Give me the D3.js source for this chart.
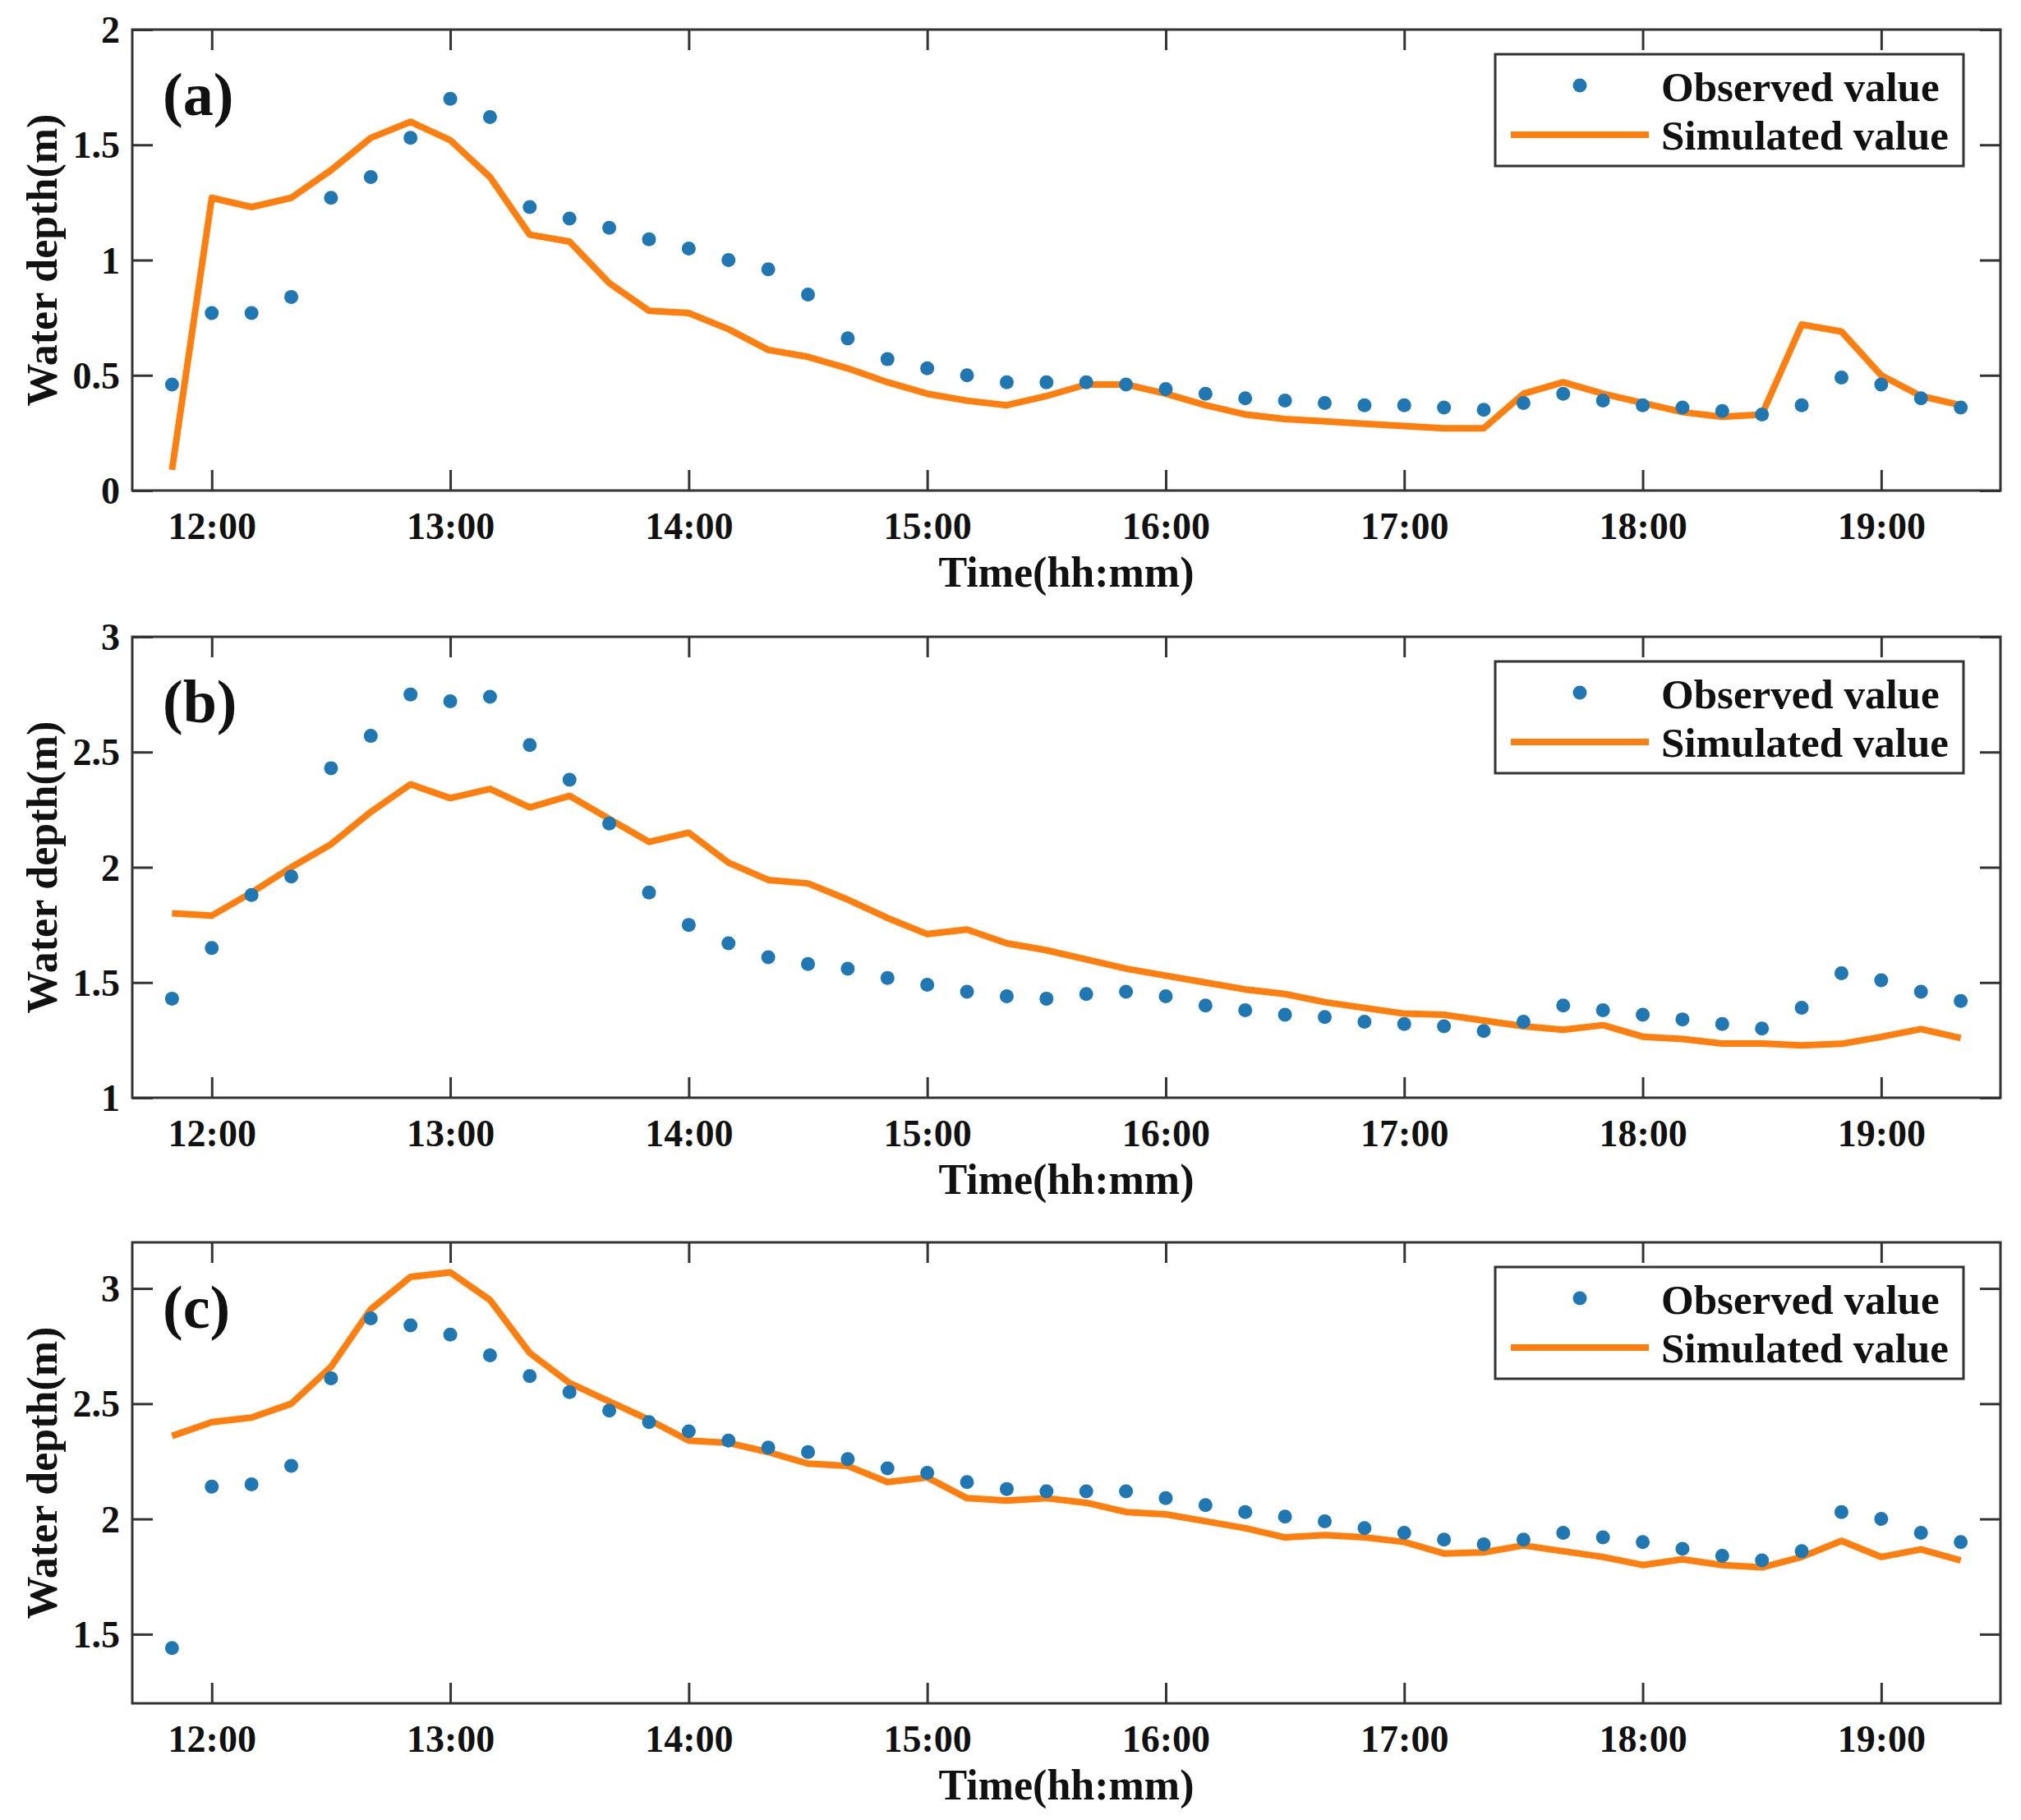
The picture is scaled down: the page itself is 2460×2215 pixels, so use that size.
<!DOCTYPE html>
<html>
<head>
<meta charset="utf-8">
<script src="https://cdn.jsdelivr.net/npm/d3@7"></script>
<style>
  html, body { margin: 0; padding: 0; background: #fff; }
  svg { display: block; }
  text { font-family: "Liberation Serif", "Times New Roman", serif; font-weight: bold; fill: #111; }
</style>
</head>
<body>
<svg id="chart" width="2460" height="2215"></svg>
<script>
// ---- data ----
const times = ["11:50","12:00","12:10","12:20","12:30","12:40","12:50","13:00","13:10","13:20","13:30","13:40","13:50","14:00","14:10","14:20","14:30","14:40","14:50","15:00","15:10","15:20","15:30","15:40","15:50","16:00","16:10","16:20","16:30","16:40","16:50","17:00","17:10","17:20","17:30","17:40","17:50","18:00","18:10","18:20","18:30","18:40","18:50","19:00","19:10","19:20"];
const xDomain = ["11:40", "19:30"];
const xTicks = ["12:00","13:00","14:00","15:00","16:00","17:00","18:00","19:00"];

const obsA = [0.46,0.77,0.77,0.84,1.27,1.36,1.53,1.70,1.62,1.23,1.18,1.14,1.09,1.05,1.00,0.96,0.85,0.66,0.57,0.53,0.50,0.47,0.47,0.47,0.46,0.44,0.42,0.40,0.39,0.38,0.37,0.37,0.36,0.35,0.38,0.42,0.39,0.37,0.36,0.345,0.33,0.37,0.49,0.46,0.40,0.36];
const simA = [0.09,1.27,1.23,1.27,1.39,1.53,1.60,1.52,1.36,1.11,1.08,0.90,0.78,0.77,0.70,0.61,0.58,0.53,0.47,0.42,0.39,0.37,0.41,0.46,0.46,0.42,0.37,0.33,0.31,0.30,0.29,0.28,0.27,0.27,0.42,0.47,0.42,0.38,0.34,0.32,0.33,0.72,0.69,0.50,0.41,0.37];
const obsB = [1.43,1.65,1.88,1.96,2.43,2.57,2.75,2.72,2.74,2.53,2.38,2.19,1.89,1.75,1.67,1.61,1.58,1.56,1.52,1.49,1.46,1.44,1.43,1.45,1.46,1.44,1.40,1.38,1.36,1.35,1.33,1.32,1.31,1.29,1.33,1.40,1.38,1.36,1.34,1.32,1.30,1.39,1.54,1.51,1.46,1.42];
const simB = [1.80,1.79,1.89,2.00,2.10,2.24,2.36,2.30,2.34,2.26,2.31,2.21,2.11,2.15,2.02,1.945,1.93,1.86,1.78,1.71,1.73,1.67,1.64,1.60,1.56,1.53,1.50,1.47,1.45,1.415,1.39,1.365,1.36,1.335,1.31,1.295,1.315,1.265,1.255,1.235,1.235,1.227,1.234,1.264,1.298,1.259];
const obsC = [1.44,2.14,2.15,2.23,2.61,2.87,2.84,2.80,2.71,2.62,2.55,2.47,2.42,2.38,2.34,2.31,2.29,2.26,2.22,2.20,2.16,2.13,2.12,2.12,2.12,2.09,2.06,2.03,2.01,1.99,1.96,1.94,1.91,1.89,1.91,1.94,1.92,1.90,1.87,1.84,1.82,1.86,2.03,2.00,1.94,1.90];
const simC = [2.36,2.42,2.44,2.50,2.66,2.91,3.05,3.07,2.95,2.72,2.59,2.51,2.43,2.34,2.33,2.29,2.24,2.23,2.16,2.18,2.09,2.08,2.09,2.07,2.03,2.02,1.99,1.96,1.92,1.93,1.92,1.90,1.85,1.855,1.885,1.86,1.835,1.80,1.825,1.80,1.79,1.835,1.905,1.835,1.868,1.82];

const panelLabels = ["(a)", "(b)", "(c)"];
const yDomains = [[0, 2], [1, 3], [1.2, 3.2]];
const yTicksList = [[0, 0.5, 1, 1.5, 2], [1, 1.5, 2, 2.5, 3], [1.5, 2, 2.5, 3]];
const obsList = [obsA, obsB, obsC];
const simList = [simA, simB, simC];
const legendLabels = ["Observed value", "Simulated value"];
const xTitle = "Time(hh:mm)";
const yTitle = "Water depth(m)";

// ---- layout ----
const W = 2460, H = 2215;
const left = 161, right = 2435;
const panelTops = [36, 775, 1512];
const panelH = 561;
const axisColor = "#333";
const obsColor = "#1f77b4";
const simColor = "#ff7f0e";
const tickLen = 25;

const toMin = s => { const [h, m] = s.split(":").map(Number); return h * 60 + m; };
const fmtTime = v => { const h = Math.floor(v / 60), m = v % 60; return h + ":" + String(m).padStart(2, "0"); };

const x = d3.scaleLinear().domain(xDomain.map(toMin)).range([left, right]);
const svg = d3.select("#chart");

panelTops.forEach((top, i) => {
  const bottom = top + panelH;
  const y = d3.scaleLinear().domain(yDomains[i]).range([bottom, top]);
  const g = svg.append("g");
  const xt = xTicks.map(toMin);

  // bottom axis with labels
  const gb = g.append("g").attr("transform", `translate(0,${bottom})`)
    .call(d3.axisBottom(x).tickValues(xt).tickFormat(fmtTime).tickSize(-tickLen).tickSizeOuter(0));
  gb.selectAll("text").attr("y", 59).attr("dy", 0).style("font-size", "46px");
  // top axis
  g.append("g").attr("transform", `translate(0,${top})`)
    .call(d3.axisTop(x).tickValues(xt).tickFormat("").tickSize(-tickLen).tickSizeOuter(0));
  // left axis
  const gl = g.append("g").attr("transform", `translate(${left},0)`)
    .call(d3.axisLeft(y).tickValues(yTicksList[i]).tickFormat(d3.format("~g")).tickSize(-tickLen).tickSizeOuter(0));
  gl.selectAll("text").attr("x", -15).attr("dy", "0.34em").style("font-size", "46px");
  // right axis
  g.append("g").attr("transform", `translate(${right},0)`)
    .call(d3.axisRight(y).tickValues(yTicksList[i]).tickFormat("").tickSize(-tickLen).tickSizeOuter(0));

  g.selectAll(".domain").remove();
  g.selectAll(".tick line").attr("stroke", axisColor).attr("stroke-width", 3);
  g.selectAll(".tick text").style("fill", "#111").style("font-family", "'Liberation Serif', 'Times New Roman', serif").style("font-weight", "bold");

  // frame
  g.append("rect").attr("x", left).attr("y", top).attr("width", right - left).attr("height", panelH)
    .attr("fill", "none").attr("stroke", axisColor).attr("stroke-width", 3);

  // simulated line
  const line = d3.line().x((d, j) => x(toMin(times[j]))).y(d => y(d));
  g.append("path").datum(simList[i]).attr("d", line)
    .attr("fill", "none").attr("stroke", simColor).attr("stroke-width", 8)
    .attr("stroke-linejoin", "round");

  // observed points
  g.append("g").selectAll("circle").data(obsList[i]).join("circle")
    .attr("cx", (d, j) => x(toMin(times[j]))).attr("cy", d => y(d)).attr("r", 8.5)
    .attr("fill", obsColor);

  // panel label
  g.append("text").attr("x", 198).attr("y", top + 104).style("font-size", "74px").text(panelLabels[i]);

  // axis titles
  g.append("text").attr("x", (left + right) / 2).attr("y", bottom + 117)
    .attr("text-anchor", "middle").style("font-size", "52px").text(xTitle);
  g.append("text").attr("transform", `translate(69,${(top + bottom) / 2}) rotate(-90)`)
    .attr("text-anchor", "middle").style("font-size", "52px").text(yTitle);

  // legend
  const lg = g.append("g").attr("transform", `translate(1820,${top + 30})`);
  lg.append("rect").attr("width", 570).attr("height", 136)
    .attr("fill", "#fff").attr("stroke", axisColor).attr("stroke-width", 3);
  lg.append("circle").attr("cx", 103).attr("cy", 38).attr("r", 8.5).attr("fill", obsColor);
  lg.append("line").attr("x1", 19).attr("x2", 187).attr("y1", 98).attr("y2", 98)
    .attr("stroke", simColor).attr("stroke-width", 8);
  lg.append("text").attr("x", 202).attr("y", 57).style("font-size", "51px").text(legendLabels[0]);
  lg.append("text").attr("x", 202).attr("y", 116).style("font-size", "51px").text(legendLabels[1]);
});
</script>
</body>
</html>
